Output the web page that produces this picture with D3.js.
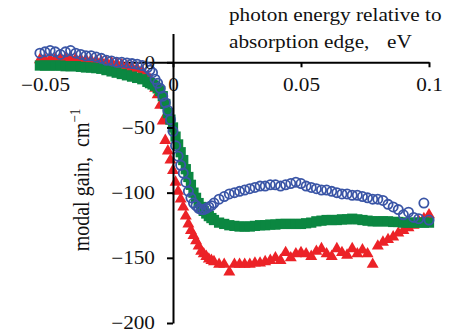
<!DOCTYPE html>
<meta charset="utf-8">
<head>
<style>
  body { margin: 0; background: #fff; }
  svg text { font-family: "Liberation Serif", "Times New Roman", serif; font-size: 18px; fill: #111; }
  .axis path, .axis line { stroke: #000; stroke-width: 2; }
</style>
<script src="https://cdnjs.cloudflare.com/ajax/libs/d3/7.8.5/d3.min.js"></script>
</head>
<body>
<script>

// photon energy relative to absorption edge, eV (finer steps through the edge)
var energy = [-0.052,-0.050,-0.048,-0.046,-0.044,-0.042,-0.040,-0.038,-0.036,-0.034,
  -0.032,-0.030,-0.028,-0.026,-0.024,-0.022,-0.020,-0.018,-0.016,-0.014,-0.012,
  -0.010,-0.009,-0.008,-0.007,-0.006,-0.005,-0.004,-0.003,-0.002,-0.001,
  0.000,0.001,0.002,0.003,0.004,0.005,0.006,0.007,0.008,0.009,
  0.010,0.011,0.012,0.013,0.014,0.015,0.016,
  0.018,0.020,0.022,0.024,0.026,0.028,0.030,0.032,0.034,0.036,
  0.038,0.040,0.042,0.044,0.046,0.048,0.050,0.052,0.054,0.056,
  0.058,0.060,0.062,0.064,0.066,0.068,0.070,0.072,0.074,0.076,
  0.078,0.080,0.082,0.084,0.086,0.088,0.090,0.092,0.094,0.096,
  0.098,0.100];

// modal gain, cm^-1 (blue open circles)
var gainCircles = [7,8,9,8,6,8,9,7,6,5,5,4,3,1.5,1,0,0,-0.5,-1,-1.5,-2.5,
  -4,-6,-8,-13,-16,-20,-26,-31,-37,-44,
  -53,-64,-72,-79,-85,-92,-99,-104,-108,-110,
  -112,-113,-113,-112,-111,-110,-108,
  -105,-103,-101,-100,-99,-98,-97,-96,-95,-95,
  -94,-94,-95,-94,-93,-92,-93,-95,-96,-97,
  -98,-98,-99,-100,-101,-101,-102,-102,-103,-104,
  -105,-105,-106,-109,-111,-113,-117,-115,-119,-120,
  -108,-121];

// red triangles
var gainTriangles = [2,2,2,2.5,2.5,3,3,2.5,2,2,1.5,1,0.5,0,-0.5,-1,-2,-3,-4,-5,-7,
  -11,-13,-16,-20,-25,-33,-45,-60,-68,-75,
  -83,-92,-99,-105,-111,-118,-124,-129,-133,-137,
  -141,-145,-147,-149,-151,-152,-153,
  -155,-155,-161,-155,-155,-155,-155,-154,-154,-153,
  -152,-150,-152,-146,-150,-147,-146,-147,-149,-145,
  -143,-147,-149,-143,-146,-148,-143,-147,-144,-147,
  -155,-141,-138,-136,-134,-131,-129,-127,-125,-122,
  -120,-117];

// green squares
var gainSquares = [-2.5,-2.5,-2.5,-2.5,-2.5,-3,-3,-3,-3.5,-4,-4,-4.5,-5,-6,-7,-8,-9,-10,-11,-12,-13,
  -15,-16,-17,-18,-20,-22,-26,-32,-39,-44,
  -50,-57,-63,-69,-75,-82,-88,-94,-100,-104,
  -108,-111,-114,-116,-118,-119.5,-121,
  -123,-124,-125,-125.5,-126,-126,-126,-125.5,-125,-125,
  -124.5,-124.5,-124,-124,-124,-124,-124,-123.5,-123,-122,
  -121.5,-121,-121,-121,-120.5,-120.5,-120,-120.5,-121,-121.5,
  -122,-122,-122,-122,-122.5,-122.5,-123,-123,-123,-123,
  -123,-123];

var xTicks = [-0.05, 0, 0.05, 0.1];
var yTicks = [-200, -150, -100, -50, 0];

var width = 449, height = 332,
    stretch = 1.18;   // the original figure is wider than tall, text looks stretched

var x = d3.scaleLinear().domain([-0.05, 0.1]).range([45, 429]);
var y = d3.scaleLinear().domain([-200, 22]).range([323, 33.6]);

var svg = d3.select("body").append("svg")
    .attr("width", width)
    .attr("height", height);

function fmt(d) { return d === 0 ? "0" : String(d).replace("-", "\u2212"); }

// x axis goes under the markers
svg.append("g")
    .attr("class", "axis")
    .attr("transform", "translate(0," + y(0) + ")")
    .call(d3.axisBottom(x).tickValues(xTicks).tickSize(5).tickPadding(11).tickSizeOuter(0).tickFormat(fmt));

var pts = energy.map(function(e, i) {
  return {e: e, c: gainCircles[i], t: gainTriangles[i], s: gainSquares[i]};
});

svg.append("g").selectAll("path")
    .data(pts)
  .enter().append("path")
    .attr("d", d3.symbol(d3.symbolTriangle).size(62))
    .attr("transform", function(d) { return "translate(" + x(d.e) + "," + y(d.t) + ")"; })
    .style("fill", "#ec2227");

svg.append("g").selectAll("path")
    .data(pts)
  .enter().append("path")
    .attr("d", d3.symbol(d3.symbolSquare).size(105))
    .attr("transform", function(d) { return "translate(" + x(d.e) + "," + y(d.s) + ")"; })
    .style("fill", "#0b8741");

svg.append("g").selectAll("circle")
    .data(pts)
  .enter().append("circle")
    .attr("cx", function(d) { return x(d.e); })
    .attr("cy", function(d) { return y(d.c); })
    .attr("r", 4.6)
    .style("fill", "none")
    .style("stroke", "#3a55a6")
    .style("stroke-width", 1.8);

// y axis drawn on top
svg.append("g")
    .attr("class", "axis")
    .attr("transform", "translate(" + x(0) + ",0)")
    .call(d3.axisLeft(y).tickValues(yTicks).tickSize(6).tickPadding(12).tickSizeOuter(0).tickFormat(fmt));

svg.selectAll(".axis").attr("font-family", null).attr("font-size", null);
svg.selectAll(".axis text").attr("fill", "#111");

// axis titles
svg.append("text").attr("x", 229).attr("y", 21).text("photon energy relative to");
svg.append("text").attr("x", 229).attr("y", 48).text("absorption edge,");
svg.append("text").attr("x", 387).attr("y", 48).text("eV");

// stretch horizontal texts
svg.selectAll("text").each(function() {
  var len = this.getComputedTextLength();
  d3.select(this).attr("textLength", len * stretch).attr("lengthAdjust", "spacingAndGlyphs");
});

var yLabel = svg.append("text")
    .attr("transform", "translate(89,180) scale(" + stretch + ",1) rotate(-90)")
    .attr("text-anchor", "middle")
    .style("font-size", "20px");
yLabel.append("tspan").text("modal gain,\u00a0\u00a0cm");
yLabel.append("tspan").attr("dy", -8).style("font-size", "13px").text("\u22121");

</script>
</body>
